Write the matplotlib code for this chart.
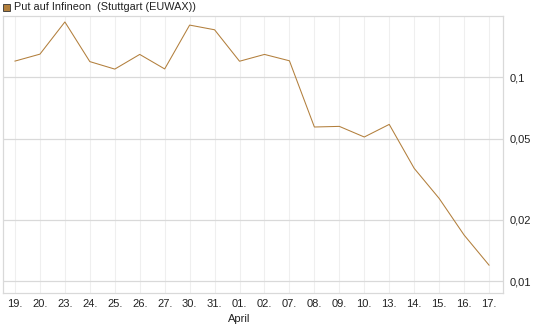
import matplotlib
matplotlib.use("Agg")
import matplotlib.pyplot as plt
from matplotlib.patches import Rectangle

plt.rcParams['font.family'] = ['Liberation Sans', 'DejaVu Sans']

# Daten
tage = ["19.", "20.", "23.", "24.", "25.", "26.", "27.", "30.", "31.", "01.",
        "02.", "07.", "08.", "09.", "10.", "13.", "14.", "15.", "16.", "17."]
kurse = [0.1202, 0.130, 0.187, 0.1195, 0.1098, 0.1296, 0.110, 0.1805, 0.1712, 0.120,
         0.1296, 0.1206, 0.0571, 0.0575, 0.051, 0.0588, 0.0358, 0.0255, 0.01686, 0.0120]
y_ticks = [0.01, 0.02, 0.05, 0.1]
y_labels = ["0,01", "0,02", "0,05", "0,1"]
monat = "April"
titel = "Put auf Infineon  (Stuttgart (EUWAX))"
farbe = "#b27f3c"

fig = plt.figure(figsize=(5.45, 3.27), dpi=100)
ax = fig.add_axes([3 / 545, 1 - 293 / 327, 500 / 545, 277 / 327])

x = list(range(len(tage)))
ax.plot(x, kurse, color=farbe, linewidth=0.75)

ax.set_yscale("log")
ax.set_ylim(0.00876, 0.2)
ax.set_xlim(-0.48, 19.56)

ax.yaxis.tick_right()
ax.set_yticks(y_ticks)
ax.set_yticklabels(y_labels)
ax.minorticks_off()
ax.set_xticks(x)
ax.set_xticklabels(tage)
ax.tick_params(axis="both", length=0, labelsize=8, colors="#222222")
ax.tick_params(axis="x", pad=4)
ax.tick_params(axis="y", pad=5)

# Gitter
for xi in x:
    ax.axvline(xi, color="#efefef", linewidth=0.8, zorder=0)
for yt in y_ticks:
    ax.axhline(yt, color="#d9d9d9", linewidth=0.9, zorder=0)
for s in ax.spines.values():
    s.set_color("#d9d9d9")
    s.set_linewidth(0.9)

# Monatsbeschriftung
ax.text(tage.index("01."), -0.075, monat, transform=ax.get_xaxis_transform(),
        ha="center", va="top", fontsize=8, color="#222222")

# Legende
fig.patches.append(Rectangle((3 / 545, 1 - 11 / 327), 7 / 545, 7 / 327,
                             transform=fig.transFigure, facecolor=farbe,
                             edgecolor="#333333", linewidth=0.6))
fig.text(14 / 545, 1 - 7.5 / 327, titel, ha="left", va="center",
         fontsize=7.8, color="#222222")

fig.savefig("out.png", dpi=100)
